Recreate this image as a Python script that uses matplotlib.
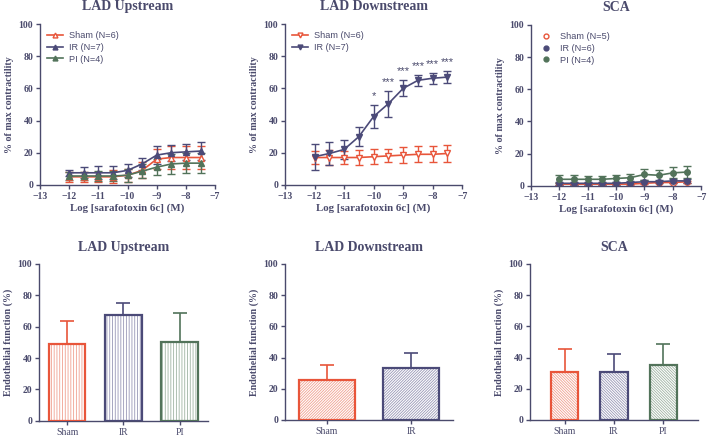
import numpy as np
import matplotlib.pyplot as plt
from matplotlib.lines import Line2D

plt.rcParams['font.family'] = 'Liberation Serif'
plt.rcParams['hatch.linewidth'] = 0.6

# ---- concentration-response data (mean, SEM) ----
log_conc = [-12, -11.5, -11, -10.5, -10, -9.5, -9, -8.5, -8, -7.5]

up_sham = [5, 5, 5, 5, 6, 9, 16, 17, 17, 17]
up_sham_err = [3, 3, 3, 4, 4, 5, 6, 7, 7, 7]
up_ir = [7.5, 7.5, 7.5, 7.5, 9, 13, 18.5, 20, 20.5, 21]
up_ir_err = [2, 3.5, 4, 4, 4, 4, 5.5, 5, 5, 5.5]
up_pi = [5.5, 5.5, 5.5, 5.5, 6, 8.5, 11, 13, 13.5, 13.5]
up_pi_err = [2.5, 2.5, 3, 3, 4, 4.5, 5, 6, 6, 6]

down_sham = [17, 17, 17, 17, 17.5, 18, 18.5, 19, 19, 19.5]
down_sham_err = [4, 4.5, 4, 4.5, 4.5, 4, 5, 5, 5, 5.5]
down_ir = [17.5, 19.5, 22, 30, 42.5, 50.5, 60, 65, 66.3, 67]
down_ir_err = [8, 7, 6, 6, 7, 8, 5, 3.5, 3.5, 3.5]
down_stars = ['', '', '', '', '*', '***', '***', '***', '***', '***']

sca_sham = [1, 1, 1, 1, 1, 1, 1.5, 2, 2, 2.5]
sca_sham_err = [0.5, 0.5, 0.5, 0.5, 0.5, 0.5, 0.5, 0.5, 0.5, 0.5]
sca_ir = [1.5, 1.5, 1.5, 1.5, 1.5, 2, 2.5, 2.5, 3, 3]
sca_ir_err = [1, 1, 1, 1, 1, 1, 1, 1, 1, 1]
sca_pi = [4, 4, 4, 4, 4.5, 5, 7, 6.5, 8, 8.5]
sca_pi_err = [2.5, 2.5, 2, 2, 2, 2.5, 3.5, 3.5, 3.5, 3.5]

# ---- endothelial function bars (mean, SEM) ----
up_groups = ['Sham', 'IR', 'PI']
up_endo = [49, 67.5, 50]
up_endo_err = [14.5, 7.5, 18.5]

down_groups = ['Sham', 'IR']
down_endo = [25.5, 33.5]
down_endo_err = [10, 9.5]

sca_groups = ['Sham', 'IR', 'PI']
sca_endo = [30.5, 31, 35.5]
sca_endo_err = [15, 11, 13]

RED = '#e8553a'
NAVY = '#4b4a78'
GREEN = '#52735a'
TXT = '#4a4a6c'
COLS = {'Sham': RED, 'IR': NAVY, 'PI': GREEN}
LIGHT = {'Sham': '#f0a090', 'IR': '#9897b6', 'PI': '#9fb3a3'}

fig = plt.figure(figsize=(7.09, 4.37), dpi=100)


def style(ax):
    for s in ['top', 'right']:
        ax.spines[s].set_visible(False)
    for s in ['left', 'bottom']:
        ax.spines[s].set_color(TXT)
        ax.spines[s].set_linewidth(1.0)
    ax.tick_params(colors=TXT, labelsize=7, length=3, width=1.0, pad=2)
    for lab in ax.get_yticklabels():
        lab.set_fontweight('bold')


def curve_panel(rect, title, series, legend_lines=True, stars=None):
    ax = fig.add_axes(rect)
    handles = []
    for name, y, e, col, mk, filled in series:
        mfc = col if filled else 'white'
        ax.errorbar(log_conc, y, yerr=e, color=col, marker=mk, ms=4,
                    mfc=mfc, mec=col, mew=1.0,
                    lw=1.2, elinewidth=1.0, capsize=3, capthick=1.0)
        handles.append(Line2D([], [], color=col, marker=mk, ms=3.5, mfc=mfc,
                              mec=col, mew=1.0,
                              lw=1.2 if legend_lines else 0, label=name))
    if stars is not None:
        y, e = series[1][1], series[1][2]
        for xi, yi, ei, st in zip(log_conc, y, e, stars):
            if st:
                ax.text(xi, yi + ei + 2.5, st, ha='center', va='bottom',
                        color=TXT, fontsize=8, family='Liberation Sans')
    ax.set_xlim(-13, -7)
    ax.set_ylim(0, 100)
    ax.set_xticks(range(-13, -6))
    ax.set_yticks(range(0, 101, 20))
    style(ax)
    for lab in ax.get_xticklabels():
        lab.set_fontweight('bold')
    ax.set_xlabel('Log [sarafotoxin 6c] (M)', color=TXT, fontsize=7.8,
                  fontweight='bold', labelpad=2)
    ax.set_ylabel('% of max contractility', color=TXT, fontsize=7.2,
                  fontweight='bold', labelpad=3)
    ax.set_title(title, color=TXT, fontsize=10, fontweight='bold', pad=10)
    leg = ax.legend(handles=handles, loc='upper left', frameon=False,
                    prop={'family': 'Liberation Sans', 'size': 6.6},
                    handlelength=1.7, borderaxespad=0.2, labelspacing=0.3,
                    handletextpad=0.7, bbox_to_anchor=(0.01, 0.99))
    for t in leg.get_texts():
        t.set_color(TXT)
    return ax


curve_panel([0.0564, 0.577, 0.247, 0.368], 'LAD Upstream', [
    ('Sham (N=6)', up_sham, up_sham_err, RED, '^', False),
    ('IR (N=7)', up_ir, up_ir_err, NAVY, '^', True),
    ('PI (N=4)', up_pi, up_pi_err, GREEN, '^', True),
])

curve_panel([0.402, 0.577, 0.250, 0.368], 'LAD Downstream', [
    ('Sham (N=6)', down_sham, down_sham_err, RED, 'v', False),
    ('IR (N=7)', down_ir, down_ir_err, NAVY, 'v', True),
], stars=down_stars)

curve_panel([0.749, 0.575, 0.240, 0.368], 'SCA', [
    ('Sham (N=5)', sca_sham, sca_sham_err, RED, 'o', False),
    ('IR (N=6)', sca_ir, sca_ir_err, NAVY, 'o', True),
    ('PI (N=4)', sca_pi, sca_pi_err, GREEN, 'o', True),
], legend_lines=False)


def bar_panel(rect, title, groups, vals, errs, hatch, width, xlim):
    ax = fig.add_axes(rect)
    x = np.arange(len(groups))
    for xi, g, v, e in zip(x, groups, vals, errs):
        col = COLS[g]
        # pale hatch fill, then a solid coloured outline on top
        ax.bar(xi, v, width=width, color='white', edgecolor=LIGHT[g],
               hatch=hatch, linewidth=0, zorder=2)
        ax.bar(xi, v, width=width, fill=False, edgecolor=col,
               linewidth=1.6, zorder=3)
        ax.errorbar(xi, v, yerr=[[0], [e]], color=col, lw=1.2,
                    capsize=5, capthick=1.2, zorder=1)
    ax.set_xlim(*xlim)
    ax.set_ylim(0, 100)
    ax.set_yticks(range(0, 101, 20))
    ax.set_xticks(x)
    ax.set_xticklabels(groups)
    style(ax)
    ax.set_ylabel('Endothelial function (%)', color=TXT, fontsize=7.2,
                  fontweight='bold', labelpad=3)
    ax.set_title(title, color=TXT, fontsize=10, fontweight='bold', pad=9)
    return ax


bar_panel([0.055, 0.037, 0.238, 0.359], 'LAD Upstream', up_groups,
          up_endo, up_endo_err, '||||||', 0.65, (-0.5, 2.5))
bar_panel([0.402, 0.039, 0.237, 0.357], 'LAD Downstream', down_groups,
          down_endo, down_endo_err, '/' * 12, 0.67, (-0.5, 1.5))
bar_panel([0.7475, 0.039, 0.237, 0.357], 'SCA', sca_groups,
          sca_endo, sca_endo_err, '\\' * 12, 0.55, (-0.7, 2.7))

fig.savefig('out.png', dpi=100)
